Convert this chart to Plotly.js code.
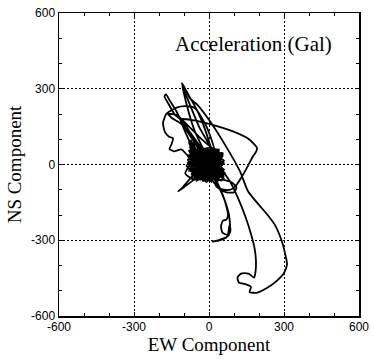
<!DOCTYPE html>
<html>
<head>
<meta charset="utf-8">
<script src="https://cdn.plot.ly/plotly-3.0.1.min.js"></script>
<style>
  html, body { margin: 0; padding: 0; background: #fff; }
  #chart { width: 372px; height: 361px; }
</style>
</head>
<body>
<div id="chart"></div>
<script>
// EW (x) and NS (y) acceleration components, Gal, traced along the orbit
const ewStart = [0, 8, -6, 14, -12, 18, -20, 10, -8, 25, -28, 15, -18, 30];
const nsStart = [0, -5, 10, 4, -8, 15, 5, -22, 25, -6, -12, 30, -25, 12];

const ewLeaf = [-20, -70, -116, -135, -165, -178, -172, -158, -130, -116, -70, -20, 20, 40, 10];
const nsLeaf = [40, 110, 180, 195, 245, 270, 278, 255, 210, 182, 120, 50, -10, -30, 5];

const ewLeft = [-50, -110, -150, -168, -184, -176, -160, -144, -150, -158, -140, -110, -90, -60, -30];
const nsLeft = [90, 160, 185, 203, 165, 128, 110, 104, 80, 62, 52, 60, 40, 20, -10];

const ewTail = [-70, -110, -123, -100, -60, -20, 20];
const nsTail = [-50, -95, -106, -90, -60, -30, 10];

const ewArc = [-40, -90, -130, -150, -168, -130, -96, -56, -10, 20, -40, -100, -116, -60, 4, 96, 160, 192, 188, 176, 144, 112, 90, 60, 30, 24, 50, 90, 110, 100, 70, 40, 10, -20];
const nsArc = [60, 150, 195, 200, 203, 225, 231, 223, 150, 60, 110, 170, 180, 175, 160, 131, 100, 65, 50, 33, -27, -78, -98, -100, -88, -70, -60, -70, -90, -110, -110, -95, -60, -20];

const ewSpike = [-40, -90, -104, -108, -90, -48, -20, 10, 30, -10];
const nsSpike = [150, 270, 305, 322, 290, 215, 150, 60, -10, 10];

const ewArm = [-60, -100, -108, -76, -48, 4, 72, 124, 156, 200, 232, 264, 290, 306, 312, 300, 270, 230, 190, 162, 168, 145, 120, 114, 128, 158, 180, 186, 188, 182, 168, 145, 115, 80, 40, 0];
const nsArm = [140, 280, 322, 262, 238, 171, 65, -27, -106, -160, -197, -240, -300, -360, -395, -430, -462, -490, -508, -505, -485, -474, -468, -448, -432, -432, -448, -425, -383, -330, -275, -205, -130, -60, -10, 20];

const ewHeart = [20, 36, 55, 68, 76, 70, 56, 48, 54, 72, 86, 82, 74, 45, 14, 42, 70, 84, 80, 62, 40, 10, -10];
const nsHeart = [-40, -78, -120, -160, -200, -218, -222, -245, -270, -278, -262, -240, -284, -300, -306, -298, -288, -268, -200, -140, -90, -40, 0];

const ewCore = [-55, 40, -70, 55, -40, 25, -80, 60, -25, 15, -75, 45, -60, 35, -10, -50, 45, -85, 20, -35, 55, -65, 40, -20, -55, 30, -80, 60, -40, 15, -60, 45, -30, -75, 35, -45, 65, -15, -70, 20, -35, 50, -80, 5, -40, 40, -55, 25, -20, 60, -75, 0, -30, 45, -60, 15, -40, 30, -65, 20, -5, -50, 25, -35, 40, -55, 0];
const nsCore = [50, -40, 0, 35, -55, 60, 20, -20, -65, 65, 40, -50, -35, 45, -70, 60, 0, 5, -60, 55, -30, -40, 60, -45, 30, -65, 55, 15, -25, 40, -55, 15, 65, 5, -40, 45, -35, -15, 60, 20, -50, 45, -20, -55, 25, -15, -60, 30, 55, -55, 25, -35, 40, 30, -20, -45, 60, -5, -45, 50, -20, 5, -25, 25, 40, -40, 10];

const ewCore2 = [-40, 35, -60, 50, -30, 20, -75, 55, -50, 40, -20, -70, 40, -35, 30, -55, 15, -5, -85, 50, -45, 35, -60, 55, -30, 10, -70, 45, -50, 20, -15, -75, 60, -35, 30, -55, 0, -45, 50, -70, 15, -20, 35, -65, 45, -30, 20, -80, 55, -5, -50, 30, -35, 60, -75, 15, -15, 45, -55, 5, -45, 50, -70, 30, -20, -65, 35, -30, 55, -50, 0, -80, 40, -35, 20, -55, 60, -15, -70, 30, -40, 15, -85, 50, -30, 5, -60, 35, -20, 55, -50, 20, -75, 40, -35, 0, -55, 30, -15, -45, 15, -30, 5];
const nsCore2 = [30, -20, 45, -35, 60, -55, 20, 0, -45, 55, -65, 50, -45, 20, -5, -20, 50, -40, 35, 25, -55, 60, -30, -60, 40, -70, 60, -5, 10, 35, -60, 0, 15, 55, -40, 30, -20, 65, -25, -40, 60, -30, 15, 55, -50, -5, 30, -25, 45, -65, 50, -60, -15, 5, 45, -25, 60, 35, -60, 20, -5, -65, 20, 50, -45, 10, -30, 65, -20, -30, 45, 55, -35, -60, 10, 50, -50, 15, -55, 60, 40, -65, 5, 30, -50, 50, 0, -55, 25, 45, -65, -10, 30, 55, 5, -50, 15, -40, 35, -35, 25, -10, 0];

const ewBand = [-30, -110, -60, 10, -100, -40, 25, -125, -80, 0, -115, -50, 30, -95, -20, -105, -30, 15, -120, -65, 5];
const nsBand = [40, 175, 90, -10, 165, 70, -30, 195, 120, 10, 185, 80, -45, 150, 30, 170, 50, -20, 188, 100, 0];

const ewLoops = [-50, -80, -72, -55, -45, -76, -64, -40, -120, 20, -100, 30, -130, 10, -85, -55, -90, -70, -95, -60, -20, 30, 60, 20, 0];
const nsLoops = [30, 90, 95, 40, 20, 70, 85, 10, 190, -20, 160, -40, 200, -10, 20, -30, -5, 10, -35, -60, -40, -20, -40, -5, 0];

const ewComponent = [].concat(ewStart, ewLeaf, ewLeft, ewTail, ewArc, ewCore.slice(0, 30), ewSpike, ewBand, ewArm, ewCore2, ewHeart, ewCore.slice(30), ewLoops);
const nsComponent = [].concat(nsStart, nsLeaf, nsLeft, nsTail, nsArc, nsCore.slice(0, 30), nsSpike, nsBand, nsArm, nsCore2, nsHeart, nsCore.slice(30), nsLoops);

const axisTickValues = [-600, -300, 0, 300, 600];
const axisTickLabels = ['-600', '-300', '0', '300', '600'];

const trace = {
  x: ewComponent,
  y: nsComponent,
  mode: 'lines',
  type: 'scatter',
  line: { color: '#000', width: 1.8, shape: 'spline', smoothing: 0.6 },
  hoverinfo: 'skip'
};

function axis(titleText) {
  return {
    range: [-600, 600],
    tickmode: 'array',
    tickvals: axisTickValues,
    ticktext: axisTickLabels,
    showgrid: true,
    gridcolor: '#000',
    griddash: '2px,2px',
    gridwidth: 1,
    zeroline: false,
    showline: true,
    linecolor: '#000',
    linewidth: 1.5,
    mirror: 'ticks',
    ticks: 'inside',
    ticklen: 4,
    tickwidth: 1,
    tickcolor: '#000',
    minor: { dtick: 100, tick0: 0, ticks: 'inside', ticklen: 3, tickwidth: 1, tickcolor: '#000', showgrid: false },
    tickfont: { family: 'Liberation Sans, Arial, sans-serif', size: 12, color: '#000' },
    title: { text: titleText, font: { family: 'Liberation Serif, Times New Roman, serif', size: 19, color: '#000' }, standoff: 4 },
    fixedrange: true
  };
}

const layout = {
  width: 372,
  height: 361,
  margin: { l: 59, r: 13, t: 13, b: 45 },
  paper_bgcolor: '#fff',
  plot_bgcolor: '#fff',
  showlegend: false,
  xaxis: Object.assign(axis('EW Component'), { automargin: false, ticklabelstandoff: -1 }),
  yaxis: Object.assign(axis('NS Component'), { automargin: false, ticklabelstandoff: 0 }),
  annotations: [{
    text: 'Acceleration (Gal)',
    x: 178, y: 477, xref: 'x', yref: 'y',
    showarrow: false,
    font: { family: 'Liberation Serif, Times New Roman, serif', size: 21, color: '#000' }
  }]
};

Plotly.newPlot('chart', [trace], layout, { staticPlot: true, displayModeBar: false });
</script>
</body>
</html>
